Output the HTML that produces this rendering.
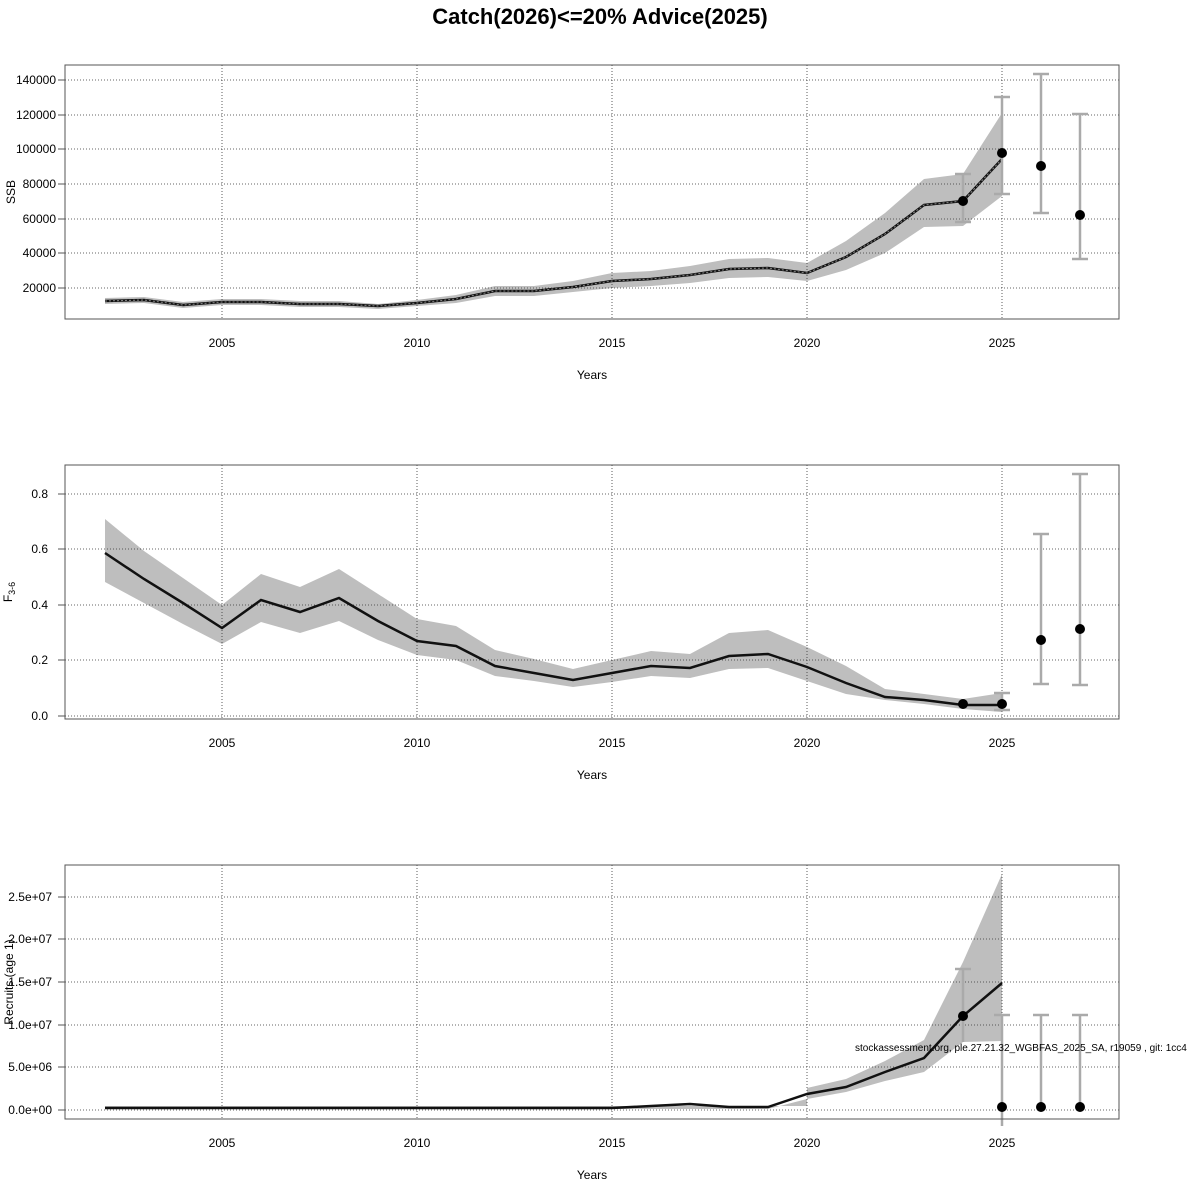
<!DOCTYPE html>
<html><head><meta charset="utf-8"><style>body{margin:0;background:#fff}svg{display:block;font-family:"Liberation Sans",sans-serif}</style></head>
<body>
<svg width="1200" height="1200" viewBox="0 0 1200 1200" xmlns="http://www.w3.org/2000/svg">
<rect width="1200" height="1200" fill="#fff"/>
<text x="600" y="24" font-size="22" font-weight="bold" text-anchor="middle">Catch(2026)&lt;=20% Advice(2025)</text>
<g id="p1">
<polygon fill="#bebebe" points="105,298 144,297 183,302 222,299 261,299 300,301 339,301 378,304 417,300 456,295 495,286 534,286 573,281 612,273 651,271 690,266 729,259 768,258 807,263 846,241 885,213 924,179 963,174 1002,113 1002,196 963,226 924,227 885,253 846,270 807,281 768,277 729,278 690,283 651,286 612,288 573,292 534,296 495,296 456,303 417,306 378,309 339,307 300,307 261,305 222,305 183,308 144,303 105,304"/>
<g stroke="#333" stroke-dasharray="1,2" stroke-width="0.8">
<line x1="65" x2="1119" y1="80" y2="80"/><line x1="65" x2="1119" y1="115" y2="115"/><line x1="65" x2="1119" y1="149" y2="149"/><line x1="65" x2="1119" y1="184" y2="184"/><line x1="65" x2="1119" y1="219" y2="219"/><line x1="65" x2="1119" y1="253" y2="253"/><line x1="65" x2="1119" y1="288" y2="288"/>
<line x1="222" x2="222" y1="65" y2="319"/><line x1="417" x2="417" y1="65" y2="319"/><line x1="612" x2="612" y1="65" y2="319"/><line x1="807" x2="807" y1="65" y2="319"/><line x1="1002" x2="1002" y1="65" y2="319"/>
</g>
<polyline fill="none" stroke="#111" stroke-width="2.5" points="105,301 144,300 183,305 222,302 261,302 300,304 339,304 378,306 417,303 456,299 495,291 534,291 573,287 612,281 651,279 690,275 729,269 768,268 807,273 846,257 885,234 924,205 963,201 1002,159"/>
<polyline fill="none" stroke="#888" stroke-width="1" stroke-dasharray="2,2" points="105,301 144,300 183,305 222,302 261,302 300,304 339,304 378,306 417,303 456,299 495,291 534,291 573,287 612,281 651,279 690,275 729,269 768,268 807,273 846,257 885,234 924,205 963,201 1002,159"/>
<g stroke="#aaa" stroke-width="2.5" fill="none">
<path d="M963,174V222M955,174H971M955,222H971"/><path d="M1002,97V194M994,97H1010M994,194H1010"/><path d="M1041,74V213M1033,74H1049M1033,213H1049"/><path d="M1080,114V259M1072,114H1088M1072,259H1088"/>
</g>
<g fill="#000"><circle cx="963" cy="201" r="5"/><circle cx="1002" cy="153" r="5"/><circle cx="1041" cy="166" r="5"/><circle cx="1080" cy="215" r="5"/></g>
<rect x="65" y="65" width="1054" height="254" fill="none" stroke="#555"/>
<g stroke="#555"><line x1="58" x2="65" y1="80" y2="80"/><line x1="58" x2="65" y1="115" y2="115"/><line x1="58" x2="65" y1="149" y2="149"/><line x1="58" x2="65" y1="184" y2="184"/><line x1="58" x2="65" y1="219" y2="219"/><line x1="58" x2="65" y1="253" y2="253"/><line x1="58" x2="65" y1="288" y2="288"/></g>
<g font-size="12" text-anchor="end"><text x="56" y="84">140000</text><text x="56" y="119">120000</text><text x="56" y="153">100000</text><text x="56" y="188">80000</text><text x="56" y="223">60000</text><text x="56" y="257">40000</text><text x="56" y="292">20000</text></g>
<g font-size="12" text-anchor="middle"><text x="222" y="347">2005</text><text x="417" y="347">2010</text><text x="612" y="347">2015</text><text x="807" y="347">2020</text><text x="1002" y="347">2025</text><text x="592" y="379">Years</text></g>
<text transform="translate(15,192) rotate(-90)" font-size="12" text-anchor="middle">SSB</text>
</g>
<g id="p2">
<polygon fill="#bebebe" points="105,519 144,551 183,578 222,605 261,574 300,587 339,569 378,594 417,619 456,626 495,650 534,659 573,669 612,660 651,651 690,654 729,633 768,630 807,647 846,666 885,689 924,694 963,699 1002,693 1002,712 963,709 924,704 885,700 846,694 807,681 768,668 729,669 690,678 651,676 612,682 573,687 534,681 495,676 456,660 417,655 378,640 339,621 300,633 261,622 222,644 183,624 144,603 105,582"/>
<g stroke="#333" stroke-dasharray="1,2" stroke-width="0.8">
<line x1="65" x2="1119" y1="494" y2="494"/><line x1="65" x2="1119" y1="549" y2="549"/><line x1="65" x2="1119" y1="605" y2="605"/><line x1="65" x2="1119" y1="660" y2="660"/><line x1="65" x2="1119" y1="716" y2="716"/>
<line x1="222" x2="222" y1="465" y2="719"/><line x1="417" x2="417" y1="465" y2="719"/><line x1="612" x2="612" y1="465" y2="719"/><line x1="807" x2="807" y1="465" y2="719"/><line x1="1002" x2="1002" y1="465" y2="719"/>
</g>
<polyline fill="none" stroke="#111" stroke-width="2.5" points="105,553 144,579 183,603 222,628 261,600 300,612 339,598 378,621 417,641 456,646 495,666 534,673 573,680 612,673 651,666 690,668 729,656 768,654 807,667 846,683 885,697 924,700 963,705 1002,705"/>
<g stroke="#aaa" stroke-width="2.5" fill="none">
<path d="M1002,693V710M994,693H1010M994,710H1010"/><path d="M1041,534V684M1033,534H1049M1033,684H1049"/><path d="M1080,474V685M1072,474H1088M1072,685H1088"/>
</g>
<g fill="#000"><circle cx="963" cy="704" r="5"/><circle cx="1002" cy="704" r="5"/><circle cx="1041" cy="640" r="5"/><circle cx="1080" cy="629" r="5"/></g>
<rect x="65" y="465" width="1054" height="254" fill="none" stroke="#555"/>
<g stroke="#555"><line x1="58" x2="65" y1="494" y2="494"/><line x1="58" x2="65" y1="549" y2="549"/><line x1="58" x2="65" y1="605" y2="605"/><line x1="58" x2="65" y1="660" y2="660"/><line x1="58" x2="65" y1="716" y2="716"/></g>
<g font-size="12" text-anchor="end"><text x="48" y="498">0.8</text><text x="48" y="553">0.6</text><text x="48" y="609">0.4</text><text x="48" y="664">0.2</text><text x="48" y="720">0.0</text></g>
<g font-size="12" text-anchor="middle"><text x="222" y="747">2005</text><text x="417" y="747">2010</text><text x="612" y="747">2015</text><text x="807" y="747">2020</text><text x="1002" y="747">2025</text><text x="592" y="779">Years</text></g>
<text transform="translate(12,592) rotate(-90)" font-size="12" text-anchor="middle">F<tspan font-size="9" dy="3">3-6</tspan></text>
</g>
<g id="p3">
<polygon fill="#bebebe" points="105,1106 807,1106 807,1088 846,1079 885,1061 924,1040 963,962 1002,874 1002,1041 963,1042 924,1072 885,1081 846,1092 807,1099 768,1109 105,1109"/>
<g stroke="#333" stroke-dasharray="1,2" stroke-width="0.8">
<line x1="65" x2="1119" y1="897" y2="897"/><line x1="65" x2="1119" y1="939" y2="939"/><line x1="65" x2="1119" y1="982" y2="982"/><line x1="65" x2="1119" y1="1025" y2="1025"/><line x1="65" x2="1119" y1="1067" y2="1067"/><line x1="65" x2="1119" y1="1110" y2="1110"/>
<line x1="222" x2="222" y1="865" y2="1119"/><line x1="417" x2="417" y1="865" y2="1119"/><line x1="612" x2="612" y1="865" y2="1119"/><line x1="807" x2="807" y1="865" y2="1119"/><line x1="1002" x2="1002" y1="865" y2="1126"/>
</g>
<polyline fill="none" stroke="#111" stroke-width="2.5" points="105,1108 612,1108 651,1106 690,1104 729,1107 768,1107 807,1094 846,1087 885,1072 924,1058 963,1016 1002,983"/>
<g stroke="#aaa" stroke-width="2.5" fill="none">
<path d="M963,969V1042M955,969H971"/><path d="M1002,1015V1126M994,1015H1010"/><path d="M1041,1015V1110M1033,1015H1049"/><path d="M1080,1015V1110M1072,1015H1088"/>
</g>
<g fill="#000"><circle cx="963" cy="1016" r="5"/><circle cx="1002" cy="1107" r="5"/><circle cx="1041" cy="1107" r="5"/><circle cx="1080" cy="1107" r="5"/></g>
<rect x="65" y="865" width="1054" height="254" fill="none" stroke="#555"/>
<g stroke="#555"><line x1="58" x2="65" y1="897" y2="897"/><line x1="58" x2="65" y1="939" y2="939"/><line x1="58" x2="65" y1="982" y2="982"/><line x1="58" x2="65" y1="1025" y2="1025"/><line x1="58" x2="65" y1="1067" y2="1067"/><line x1="58" x2="65" y1="1110" y2="1110"/></g>
<g font-size="12" text-anchor="end"><text x="52" y="901">2.5e+07</text><text x="52" y="943">2.0e+07</text><text x="52" y="986">1.5e+07</text><text x="52" y="1029">1.0e+07</text><text x="52" y="1071">5.0e+06</text><text x="52" y="1114">0.0e+00</text></g>
<g font-size="12" text-anchor="middle"><text x="222" y="1147">2005</text><text x="417" y="1147">2010</text><text x="612" y="1147">2015</text><text x="807" y="1147">2020</text><text x="1002" y="1147">2025</text><text x="592" y="1179">Years</text></g>
<text transform="translate(13,982) rotate(-90)" font-size="12" text-anchor="middle">Recruits (age 1)</text>
<text x="855" y="1051" font-size="10">stockassessment.org, ple.27.21.32_WGBFAS_2025_SA, r19059 , git: 1cc4</text>
</g>
</svg>
</body></html>
